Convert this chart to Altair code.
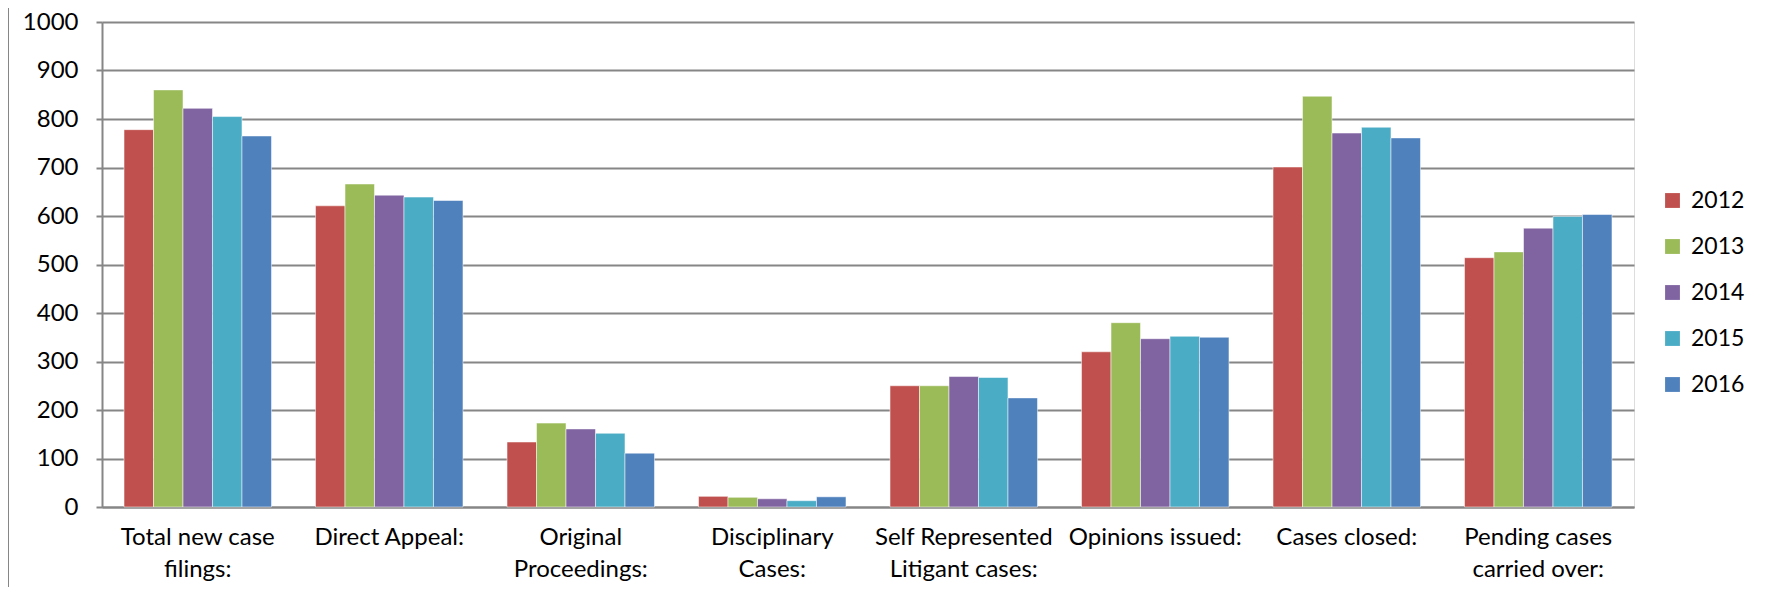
import altair as alt
import pandas as pd

categories = ["Total new case|filings:", "Direct Appeal:", "Original|Proceedings:",
              "Disciplinary|Cases:", "Self Represented|Litigant cases:", "Opinions issued:",
              "Cases closed:", "Pending cases|carried over:"]
years = ["2012", "2013", "2014", "2015", "2016"]
v2012 = [778, 621, 134, 22, 250, 320, 701, 514]
v2013 = [860, 666, 173, 20, 250, 380, 847, 526]
v2014 = [822, 643, 161, 17, 269, 347, 771, 575]
v2015 = [805, 639, 152, 13, 267, 352, 783, 599]
v2016 = [765, 632, 111, 21, 225, 350, 761, 603]
colors = ["#C0504D", "#9BBB59", "#8064A2", "#4BACC6", "#4F81BD"]

rows = []
for y, vals in zip(years, [v2012, v2013, v2014, v2015, v2016]):
    for c, v in zip(categories, vals):
        rows.append({"cat": c, "year": y, "value": v})
df = pd.DataFrame(rows)

FONT = "Lato"
FS = 24
W, H = 1532, 485

bars = alt.Chart(df).mark_bar(stroke="white", strokeOpacity=0.5, strokeWidth=1).encode(
    x=alt.X("cat:N", sort=categories, title=None,
            scale=alt.Scale(paddingInner=0.23, paddingOuter=0.115),
            axis=alt.Axis(labelExpr="split(datum.label, '|')", labelAngle=0,
                          labelFontSize=FS, labelFont=FONT, labelColor="black",
                          labelBaseline="top", labelPadding=18, labelLineHeight=32,
                          ticks=False, domainColor="#868686", domainWidth=2,
                          grid=False)),
    xOffset=alt.XOffset("year:N", sort=years, scale=alt.Scale(paddingInner=0, paddingOuter=0)),
    y=alt.Y("value:Q", title=None,
            scale=alt.Scale(domain=[0, 1000], nice=False),
            axis=alt.Axis(values=list(range(0, 1001, 100)), format="d",
                          labelFontSize=FS, labelFont=FONT,
                          labelColor="black", tickSize=6, tickColor="#868686", tickWidth=2,
                          labelPadding=18, domainColor="#868686", domainWidth=2,
                          gridColor="#868686", gridWidth=2)),
    color=alt.Color("year:N", sort=years, scale=alt.Scale(domain=years, range=colors),
                    legend=alt.Legend(title=None, orient="none", legendX=1559, legendY=167,
                                      padding=0,
                                      symbolType="square", symbolSize=220, symbolStrokeWidth=0,
                                      labelFontSize=23, labelFont=FONT, labelColor="black",
                                      rowPadding=22, labelOffset=7)),
)

frame = alt.Chart(pd.DataFrame({"a": [0]})).mark_rule(color="#868686", strokeWidth=2).encode(
    x=alt.value(-94), y=alt.value(-20), y2=alt.value(H + 120))

chart = alt.layer(bars, frame).properties(
    width=W, height=H,
    autosize=alt.AutoSizeParams(type="none"),
    padding={"left": 94, "top": 14, "right": 129, "bottom": 80},
).configure_view(stroke=None).configure(background="white")

chart.save("out.html", embed_options={"renderer": "svg", "actions": False})
